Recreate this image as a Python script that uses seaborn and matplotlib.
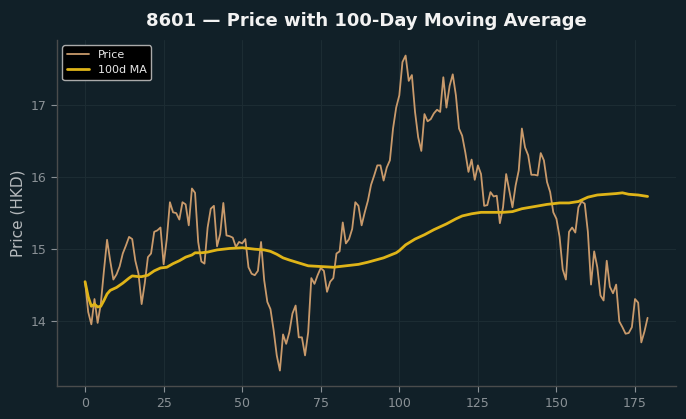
import matplotlib
matplotlib.use("Agg")
import matplotlib.pyplot as plt
import seaborn as sns
import pandas as pd

price = [14.55, 14.13, 13.96, 14.31, 13.98, 14.24, 14.70, 15.13, 14.84, 14.58,
         14.65, 14.76, 14.94, 15.05, 15.17, 15.14, 14.84, 14.66, 14.24, 14.53,
         14.89, 14.94, 15.24, 15.26, 15.30, 14.79, 15.14, 15.65, 15.51, 15.50,
         15.41, 15.65, 15.62, 15.33, 15.84, 15.78, 15.10, 14.83, 14.80, 15.30,
         15.56, 15.60, 15.04, 15.21, 15.64, 15.19, 15.18, 15.16, 15.03, 15.10,
         15.08, 15.14, 14.75, 14.66, 14.64, 14.70, 15.10, 14.57, 14.27, 14.17,
         13.88, 13.53, 13.32, 13.82, 13.69, 13.85, 14.11, 14.22, 13.78, 13.78,
         13.53, 13.85, 14.60, 14.52, 14.64, 14.74, 14.70, 14.41, 14.55, 14.60,
         14.94, 14.97, 15.37, 15.08, 15.14, 15.28, 15.65, 15.60, 15.33, 15.51,
         15.67, 15.89, 16.02, 16.16, 16.16, 15.95, 16.13, 16.23, 16.67, 16.96,
         17.13, 17.59, 17.68, 17.33, 17.41, 16.90, 16.55, 16.36, 16.87, 16.77,
         16.80, 16.88, 16.93, 16.90, 17.38, 16.96, 17.26, 17.42, 17.13, 16.67,
         16.57, 16.34, 16.07, 16.24, 15.96, 16.16, 16.04, 15.60, 15.61, 15.79,
         15.73, 15.74, 15.36, 15.58, 16.04, 15.81, 15.58, 15.88, 16.09, 16.67,
         16.41, 16.30, 16.03, 16.03, 16.02, 16.33, 16.23, 15.93, 15.79, 15.51,
         15.42, 15.17, 14.72, 14.58, 15.24, 15.30, 15.23, 15.58, 15.66, 15.63,
         15.24, 14.51, 14.97, 14.75, 14.36, 14.29, 14.84, 14.48, 14.39, 14.51,
         14.00, 13.92, 13.83, 13.84, 13.92, 14.31, 14.26, 13.71, 13.86, 14.05]
days = list(range(len(price)))

ma_days = [0, 1, 2, 3, 4, 5, 6, 7, 8, 9, 10, 12, 14, 15, 17, 18, 20, 22, 24, 26,
           28, 30, 32, 34, 35, 37, 39, 41, 42, 46, 50, 54, 57, 59, 61, 63, 65, 68,
           71, 75, 79, 83, 87, 90, 95, 99, 100, 102, 105, 108, 111, 115, 118, 120,
           123, 126, 129, 133, 136, 139, 143, 147, 151, 154, 157, 160, 163, 166,
           169, 171, 173, 176, 179]
ma_values = [14.55, 14.34, 14.21, 14.24, 14.20, 14.21, 14.29, 14.38, 14.43, 14.45,
             14.47, 14.53, 14.60, 14.63, 14.62, 14.62, 14.64, 14.70, 14.74, 14.75,
             14.80, 14.84, 14.89, 14.92, 14.95, 14.95, 14.96, 14.98, 14.99, 15.01,
             15.02, 15.00, 14.99, 14.97, 14.93, 14.88, 14.85, 14.81, 14.77, 14.76,
             14.75, 14.77, 14.79, 14.82, 14.88, 14.95, 14.98, 15.06, 15.14, 15.20,
             15.27, 15.35, 15.42, 15.46, 15.49, 15.51, 15.51, 15.51, 15.52, 15.56,
             15.59, 15.62, 15.64, 15.64, 15.66, 15.72, 15.75, 15.76, 15.77, 15.78,
             15.76, 15.75, 15.73]

price_df = pd.DataFrame({"day": days, "price": price})
ma_df = pd.DataFrame({"day": ma_days, "ma": ma_values})

BG = "#112028"
sns.set_theme(style="dark")
plt.rcParams["font.family"] = ["DejaVu Sans"]

fig, ax = plt.subplots(figsize=(6.86, 4.19), dpi=100)
fig.patch.set_facecolor(BG)
ax.set_facecolor(BG)

sns.lineplot(data=price_df, x="day", y="price", ax=ax, color="#c99a6b",
             linewidth=1.3, label="Price")
sns.lineplot(data=ma_df, x="day", y="ma", ax=ax, color="#dfb418",
             linewidth=2.0, label="100d MA")

ax.grid(True, color="#1c2c33", linewidth=0.8)
ax.set_axisbelow(True)
for side in ["top", "right"]:
    ax.spines[side].set_visible(False)
for side in ["left", "bottom"]:
    ax.spines[side].set_visible(True)
    ax.spines[side].set_color("#4a4c4c")
    ax.spines[side].set_linewidth(1.0)

ax.tick_params(axis="both", colors="#8a9196", labelcolor="#8a9196",
               length=4, width=0.8, labelsize=9, bottom=True, left=True)
ax.set_xticks([0, 25, 50, 75, 100, 125, 150, 175])
ax.set_yticks([14, 15, 16, 17])
ax.set_xlabel("")
ax.set_ylabel("Price (HKD)", color="#b5b9bc", fontsize=11)
ax.set_title("8601 — Price with 100-Day Moving Average", color="#f2f2f2",
             fontsize=13, fontweight="bold", pad=10)

leg = ax.legend(loc="upper left", fontsize=8, facecolor="black",
                edgecolor="#aaaaaa", framealpha=1.0)
for t in leg.get_texts():
    t.set_color("#e8e8e8")

fig.subplots_adjust(left=0.083, right=0.985, top=0.905, bottom=0.078)
fig.savefig("out.png", dpi=100, facecolor=BG)
